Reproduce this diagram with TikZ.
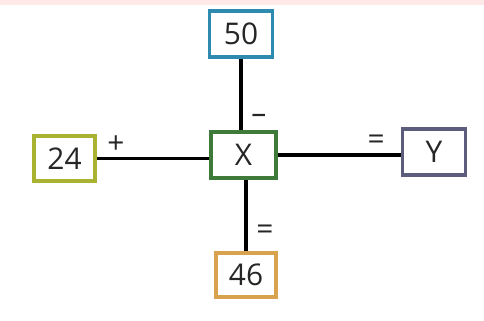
\documentclass[tikz,border=0pt]{standalone}
\usepackage{fontspec}
\setmainfont{Open Sans}

\definecolor{boxteal}{HTML}{2F8AB0}
\definecolor{boxgreen}{HTML}{3E7B3A}
\definecolor{boxolive}{HTML}{AAB232}
\definecolor{boxslate}{HTML}{5C5C7C}
\definecolor{boxtan}{HTML}{D9A24E}

\tikzset{
  numbox/.style={draw, line width=2.1pt, fill=white, inner sep=0pt, text=black!85,
    minimum width=1.26cm, minimum height=0.92cm, font=\fontsize{17}{17}\selectfont},
  link/.style={black, line width=1.9pt},
  sign/.style={font=\fontsize{17}{17}\selectfont, text=black!85, inner sep=1pt}
}

\begin{document}
\begin{tikzpicture}

%canvas
\useasboundingbox (0,0) rectangle (9.68,-6.4);
\fill[white] (0,0) rectangle (9.68,-6.4);
\fill[pink!35] (0,0) rectangle (9.68,-0.1);

%boxes
\node[numbox, draw=boxteal] (top) at (4.82,-0.68) {50};
\node[numbox, draw=boxgreen, minimum width=1.3cm] (mid) at (4.87,-3.10) {X};
\node[numbox, draw=boxolive, minimum width=1.22cm, minimum height=0.9cm] (left) at (1.29,-3.17) {24};
\node[numbox, draw=boxslate] (right) at (8.68,-3.04) {Y};
\node[numbox, draw=boxtan, minimum width=1.2cm, minimum height=0.88cm] (bottom) at (4.92,-5.50) {46};

%connectors with operation signs
\draw[link] (left.east) -- (left.east -| mid.west) node[sign, pos=0.17, above, yshift=1pt] (plus) {+};
\draw[link] (top.south) -- (top.south |- mid.north) node[sign, pos=0.84, right, xshift=4pt] (minus) {\textendash};
\draw[link] (bottom.north) -- (bottom.north |- mid.south) node[sign, pos=0.27, right, xshift=4pt] (eqb) {=};
\draw[link] (mid.east) -- (mid.east -| right.west) node[sign, pos=0.8, above, yshift=1pt] (eqa) {=};

\end{tikzpicture}
\end{document}
